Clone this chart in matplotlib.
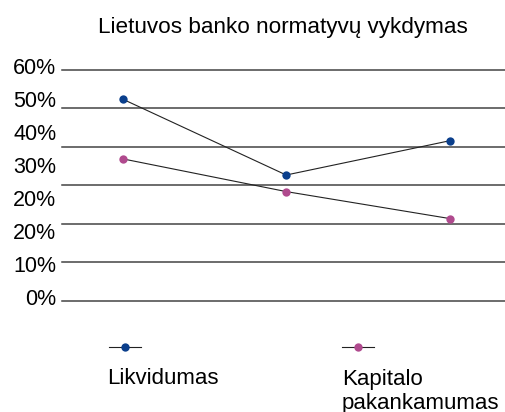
import numpy as np
import matplotlib
matplotlib.use('Agg')
import matplotlib.pyplot as plt
from matplotlib.lines import Line2D

plt.rcParams['font.family'] = ['Liberation Sans', 'DejaVu Sans']

# duomenys
categories = ['A', 'B', 'C']
likvidumas = [52.4, 32.7, 41.6]
kapitalas = [36.9, 28.4, 21.4]
grid_values = [0, 10, 20, 30, 40, 50, 60]
tick_labels = ['0%', '10%', '20%', '20%', '30%', '40%', '50%', '60%']

blue = '#0b3f8c'
pink = '#b04a8e'

fig = plt.figure(figsize=(5.06, 4.12), dpi=100)
ax = fig.add_axes([62 / 506, 1 - 301 / 412, 444 / 506, 235 / 412])

x = np.arange(len(categories))
for v in grid_values:
    ax.axhline(v, color='#444444', lw=1.1, clip_on=False, zorder=1)

ax.plot(x, likvidumas, color='#222222', lw=0.8, zorder=2)
ax.plot(x, kapitalas, color='#222222', lw=0.8, zorder=2)
ax.plot(x, likvidumas, 'o', color=blue, ms=6, mec='none', zorder=3)
ax.plot(x, kapitalas, 'o', color=pink, ms=6, mec='none', zorder=3)

ax.set_xlim(-0.371, 2.344)
ax.set_ylim(0, 60)
ax.set_xticks([])
ax.set_yticks(np.linspace(1, 61, len(tick_labels)))
ax.set_yticklabels(tick_labels, fontsize=15.5)
ax.tick_params(axis='y', length=0, pad=4)
for s in ax.spines.values():
    s.set_visible(False)

fig.text(283 / 506, 1 - 28 / 412, 'Lietuvos banko normatyvų vykdymas',
         ha='center', va='center', fontsize=16.2)

# legenda
W, H = 506, 412
for mx, col in [(125, blue), (358, pink)]:
    fig.add_artist(Line2D([(mx - 16) / W, (mx + 16) / W], [1 - 347 / H] * 2,
                          color='#222222', lw=0.8, transform=fig.transFigure))
    fig.add_artist(Line2D([mx / W], [1 - 347 / H], marker='o', ms=6, color=col,
                          mec='none', transform=fig.transFigure))
fig.text(107 / W, 1 - 379 / H, 'Likvidumas', ha='left', va='center', fontsize=16)
fig.text(342 / W, 1 - 379 / H, 'Kapitalo', ha='left', va='center', fontsize=16)
fig.text(342 / W, 1 - 403 / H, 'pakankamumas', ha='left', va='center', fontsize=16)

plt.savefig('out.png', dpi=100)
